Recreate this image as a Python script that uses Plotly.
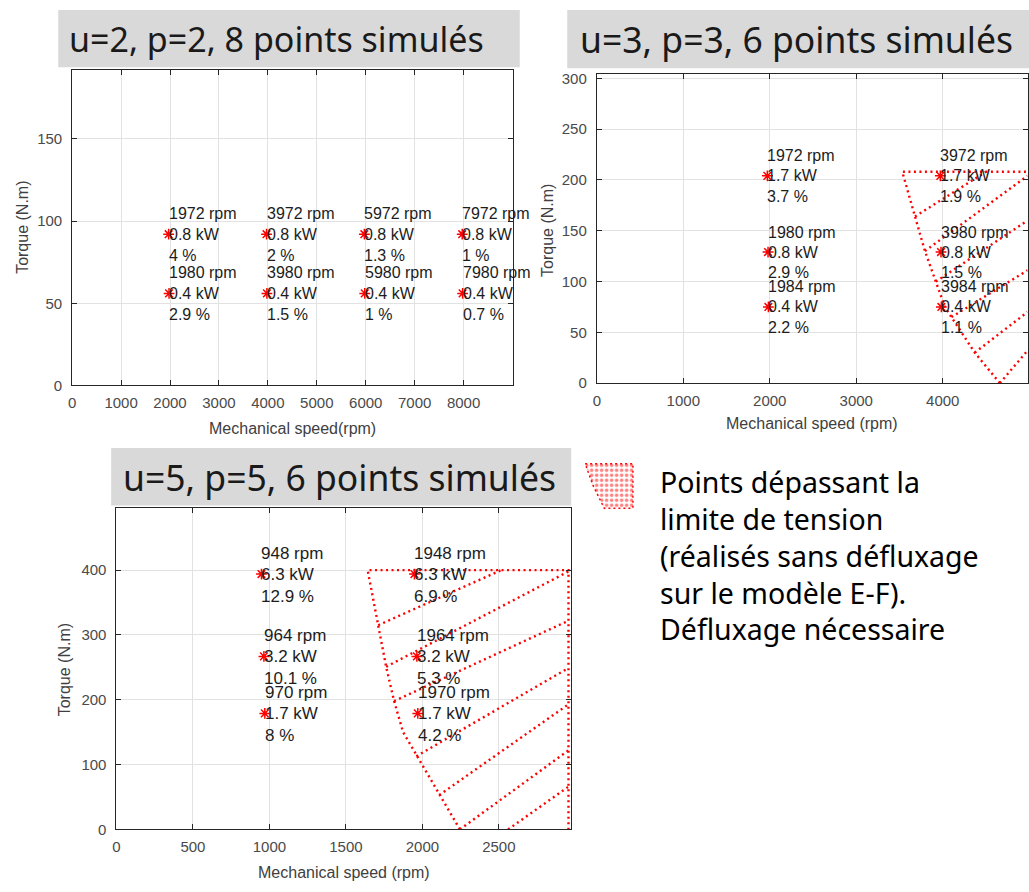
import plotly.graph_objects as go

W, H = 1029, 892

# ---------------- data ----------------
# Panel 1 : u=2, p=2
p1_speed = [1972, 3972, 5972, 7972, 1980, 3980, 5980, 7980]
p1_torque = [92, 92, 92, 92, 56, 56, 56, 56]
p1_power = [0.8, 0.8, 0.8, 0.8, 0.4, 0.4, 0.4, 0.4]
p1_loss = [4, 2, 1.3, 1, 2.9, 1.5, 1, 0.7]
p1_xticks = [0, 1000, 2000, 3000, 4000, 5000, 6000, 7000, 8000]
p1_yticks = [0, 50, 100, 150]

# Panel 2 : u=3, p=3
p2_speed = [1972, 1980, 1984, 3972, 3980, 3984]
p2_torque = [204, 129, 75, 204, 129, 75]
p2_power = [1.7, 0.8, 0.4, 1.7, 0.8, 0.4]
p2_loss = [3.7, 2.9, 2.2, 1.9, 1.5, 1.1]
p2_xticks = [0, 1000, 2000, 3000, 4000]
p2_yticks = [0, 50, 100, 150, 200, 250, 300]
# voltage-limit region (boundary + hatch segments)
p2_limit_speed = [4660, 4370, 4024, 3920, 3794, 3679, 3532, 5100]
p2_limit_torque = [0, 30, 75, 100, 130, 164, 208, 208]
p2_hatch_speed0 = [3679, 3794, 3920, 4100, 4370, 4660]
p2_hatch_torque0 = [164, 130, 100, 65, 30, 0]
p2_hatch_speed1 = [4500, 4980, 4980, 4980, 4980, 4980]
p2_hatch_torque1 = [208, 204, 160, 111, 70, 32]

# Panel 3 : u=5, p=5
p3_speed = [948, 964, 970, 1948, 1964, 1970]
p3_torque = [394, 267, 179, 394, 267, 179]
p3_power = [6.3, 3.2, 1.7, 6.3, 3.2, 1.7]
p3_loss = [12.9, 10.1, 8, 6.9, 5.3, 4.2]
p3_xticks = [0, 500, 1000, 1500, 2000, 2500]
p3_yticks = [0, 100, 200, 300, 400]
p3_limit_speed = [2245, 2115, 1985, 1874, 1815, 1763, 1711, 1642, 2955, 2955]
p3_limit_torque = [0, 53, 106, 150, 198, 251, 315, 400, 400, 0]
p3_hatch_speed0 = [1711, 1763, 1815, 1960, 2110, 2245, 2560]
p3_hatch_torque0 = [315, 251, 198, 113, 53, 0, 0]
p3_hatch_speed1 = [2515, 2955, 2955, 2955, 2955, 2955, 2955]
p3_hatch_torque1 = [400, 398, 322, 249, 193, 122, 66]

titles = ["u=2, p=2, 8 points simulés", "u=3, p=3, 6 points simulés",
          "u=5, p=5, 6 points simulés"]
legend_lines = ["Points dépassant la", "limite de tension",
                "(réalisés sans défluxage", "sur le modèle E-F).",
                "Défluxage nécessaire"]

# ---------------- layout (pixels) ----------------
panels = [
    dict(x0=68.5, x1=511, y0=66.7, y1=386.7, xr=[0, 9000], yr=[0, 192],
         xt=p1_xticks, yt=p1_yticks, xtitle="Mechanical speed(rpm)",
         ytitle_pos=(18.3, 226.7), xtitle_pos=(289.7, 430),
         box=(54.5, 518.3, 6, 64), title_pos=(63, 35), tsize=34, lsize=16,
         shifts=(21, 0, -21)),
    dict(x0=595.7, x1=1028.5, y0=70.7, y1=384.3, xr=[0, 4980], yr=[0, 304.5],
         xt=p2_xticks, yt=p2_yticks, xtitle="Mechanical speed (rpm)",
         ytitle_pos=(546.7, 230), xtitle_pos=(812, 425),
         box=(566, 1035, 6, 65), title_pos=(577, 35.5), tsize=35.5, lsize=16,
         shifts=(20, 0, -20.5)),
    dict(x0=113, x1=570, y0=511, y1=836.7, xr=[0, 2973], yr=[0, 495.7],
         xt=p3_xticks, yt=p3_yticks, xtitle="Mechanical speed (rpm)",
         ytitle_pos=(61.7, 675), xtitle_pos=(341.5, 880),
         box=(107.7, 570, 450, 508.3), title_pos=(118, 479), tsize=35.5, lsize=17,
         shifts=(21, 0, -22.5)),
]


def px(x, y):
    return x / W, 1 - y / H


fig = go.Figure()
layout = dict(width=W, height=H, margin=dict(l=0, r=0, t=0, b=0, pad=0),
              paper_bgcolor="white", plot_bgcolor="white", showlegend=False)
annotations = []
shapes = []

AX_LINE = "#262626"
GRID = "#e2e2e2"
TICKFONT = dict(family="Liberation Sans, Arial", size=15, color="#4a4a4a")
LABELFONT = "Liberation Sans, Arial"
HATCH = dict(color="red", width=2.4, dash="2px,3.5px")

data_sets = [
    (p1_speed, p1_torque, p1_power, p1_loss, None),
    (p2_speed, p2_torque, p2_power, p2_loss,
     (p2_limit_speed, p2_limit_torque, p2_hatch_speed0, p2_hatch_torque0,
      p2_hatch_speed1, p2_hatch_torque1)),
    (p3_speed, p3_torque, p3_power, p3_loss,
     (p3_limit_speed, p3_limit_torque, p3_hatch_speed0, p3_hatch_torque0,
      p3_hatch_speed1, p3_hatch_torque1)),
]

for i, (pn, ds) in enumerate(zip(panels, data_sets), start=1):
    sfx = "" if i == 1 else str(i)
    xa, ya = "xaxis" + sfx, "yaxis" + sfx
    xref, yref = "x" + sfx, "y" + sfx
    layout[xa] = dict(
        domain=[pn["x0"] / W, min(pn["x1"] / W, 1.0)], range=pn["xr"],
        anchor=yref, tickvals=pn["xt"], ticktext=[str(v) for v in pn["xt"]],
        showline=True, linecolor=AX_LINE, linewidth=1, mirror="ticks",
        ticks="inside", ticklen=5, tickcolor=AX_LINE, showgrid=True,
        gridcolor=GRID, gridwidth=1, zeroline=False, tickfont=TICKFONT,
        ticklabelstandoff=4)
    layout[ya] = dict(
        domain=[1 - pn["y1"] / H, 1 - pn["y0"] / H], range=pn["yr"],
        anchor=xref, tickvals=pn["yt"], ticktext=[str(v) for v in pn["yt"]],
        showline=True, linecolor=AX_LINE, linewidth=1, mirror="ticks",
        ticks="inside", ticklen=5, tickcolor=AX_LINE, showgrid=True,
        gridcolor=GRID, gridwidth=1, zeroline=False, tickfont=TICKFONT,
        ticklabelstandoff=6)

    speed, torque, power, loss, region = ds
    if region is not None:
        ls, lt, hs0, ht0, hs1, ht1 = region
        fig.add_trace(go.Scatter(x=ls, y=lt, mode="lines", xaxis=xref, yaxis=yref,
                                 line=HATCH, hoverinfo="skip"))
        hx, hy = [], []
        for a, b, c, d in zip(hs0, ht0, hs1, ht1):
            hx += [a, c, None]
            hy += [b, d, None]
        fig.add_trace(go.Scatter(x=hx, y=hy, mode="lines", xaxis=xref, yaxis=yref,
                                 line=HATCH, hoverinfo="skip"))

    fig.add_trace(go.Scatter(x=speed, y=torque, mode="markers", xaxis=xref,
                             yaxis=yref,
                             marker=dict(symbol="asterisk-open", size=9,
                                         color="red",
                                         line=dict(color="red", width=1.5))))
    for s, t, pw, ls_ in zip(speed, torque, power, loss):
        lines = [f"{s} rpm", f"{pw:g} kW", f"{ls_:g} %"]
        for txt, sh in zip(lines, pn["shifts"]):
            annotations.append(dict(
                x=s, y=t, xref=xref, yref=yref, text=txt, showarrow=False,
                xanchor="left", yanchor="middle", yshift=sh, xshift=-1,
                borderpad=0,
                font=dict(family=LABELFONT, size=pn["lsize"], color="#1c1c1c")))

    # axis titles
    tx, ty = px(*pn["ytitle_pos"])
    annotations.append(dict(x=tx, y=ty, xref="paper", yref="paper",
                            text="Torque (N.m)", textangle=-90, showarrow=False,
                            xanchor="center", yanchor="middle",
                            font=dict(family=LABELFONT, size=16, color="#404040")))
    tx, ty = px(*pn["xtitle_pos"])
    annotations.append(dict(x=tx, y=ty, xref="paper", yref="paper",
                            text=pn["xtitle"], showarrow=False,
                            xanchor="center", yanchor="middle",
                            font=dict(family=LABELFONT, size=16, color="#404040")))

    # title box
    bx0, bx1, by0, by1 = pn["box"]
    shapes.append(dict(type="rect", xref="paper", yref="paper",
                       x0=bx0 / W, x1=bx1 / W, y0=1 - by1 / H, y1=1 - by0 / H,
                       fillcolor="#d9d9d9", line=dict(width=0), layer="below"))
    tx, ty = px(*pn["title_pos"])
    annotations.append(dict(x=tx, y=ty, xref="paper", yref="paper",
                            text=titles[i - 1], showarrow=False,
                            xanchor="left", yanchor="middle",
                            font=dict(family="Noto Sans", size=pn["tsize"],
                                      color="#1a1a1a")))

# legend icon (dotted region)
icon_x = [0, 1, 1, 0.4, 0.17, 0]
icon_y = [1, 1, 0, 0, 0.5, 1]
layout["xaxis4"] = dict(domain=[583 / W, 633 / W], range=[-0.02, 1.02],
                        anchor="y4", visible=False)
layout["yaxis4"] = dict(domain=[1 - 512 / H, 1 - 465 / H], range=[-0.02, 1.02],
                        anchor="x4", visible=False)
fig.add_trace(go.Scatter(x=icon_x, y=icon_y, mode="lines", fill="toself",
                         xaxis="x4", yaxis="y4",
                         line=dict(color="red", width=1.5, dash="2px,3px"),
                         fillcolor="rgba(0,0,0,0)",
                         fillpattern=dict(shape=".", fgcolor="red",
                                          bgcolor="white", size=5, solidity=0.4),
                         hoverinfo="skip"))

legend_baselines = [495, 531.7, 569.3, 606.7, 643.3]
for txt, yb in zip(legend_lines, legend_baselines):
    tx, ty = px(657, yb - 10)
    annotations.append(dict(x=tx, y=ty, xref="paper", yref="paper", text=txt,
                            showarrow=False, xanchor="left", yanchor="middle",
                            font=dict(family="Noto Sans", size=28.5, color="#000000")))

layout["annotations"] = annotations
layout["shapes"] = shapes
fig.update_layout(**layout)

fig.write_html("out.html", config={"displayModeBar": False},
               post_script="document.body.style.margin='0';document.body.style.padding='0';")
